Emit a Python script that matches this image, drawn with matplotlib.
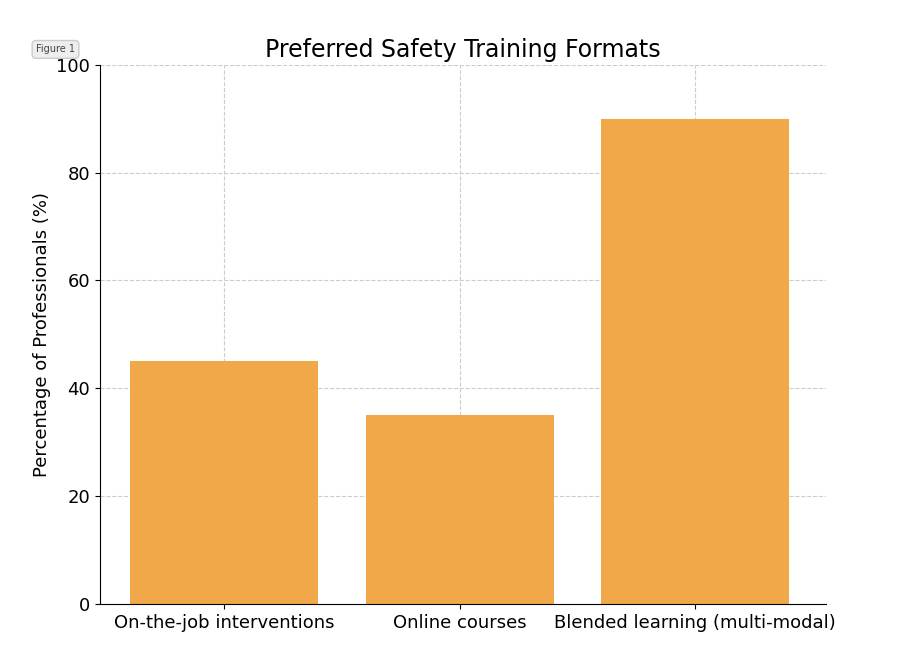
import matplotlib.pyplot as plt

formats = ['On-the-job interventions', 'Online courses', 'Blended learning (multi-modal)']
percentages = [45, 35, 90]

fig = plt.figure(figsize=(9, 6.55), dpi=100)
ax = fig.add_axes([0.111, 0.078, 0.807, 0.823])

ax.bar(range(len(formats)), percentages, width=0.8, color='#F0A848', zorder=2)
ax.set_xticks(range(len(formats)))
ax.set_xticklabels(formats, fontsize=13)
ax.set_xlim(-0.53, 2.56)
ax.set_ylim(0, 100)
ax.set_yticks([0, 20, 40, 60, 80, 100])
ax.tick_params(axis='y', labelsize=13)
ax.set_ylabel('Percentage of Professionals (%)', fontsize=13)
ax.set_title('Preferred Safety Training Formats', fontsize=17)
ax.grid(True, linestyle='--', color='#cccccc', linewidth=0.8, zorder=0)
ax.spines['top'].set_visible(False)
ax.spines['right'].set_visible(False)

fig.text(0.04, 0.92, 'Figure 1', fontsize=7, color='#444444',
         bbox=dict(boxstyle='round,pad=0.4', fc='#eeeeee', ec='#cccccc'))

fig.savefig('out.png')
